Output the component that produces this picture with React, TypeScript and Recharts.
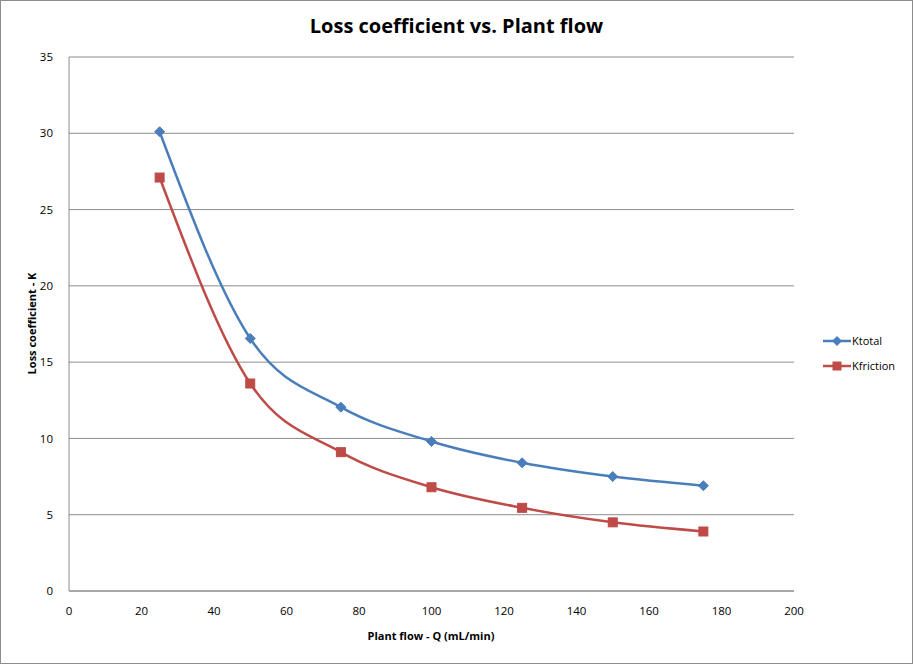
import { LineChart, Line, XAxis, YAxis, CartesianGrid } from 'recharts';

// ─── Data ─────────────────────────────────────────────────────────────────────

const flows = [25, 50, 75, 100, 125, 150, 175];
const kTotal = [30.1, 16.55, 12.05, 9.8, 8.4, 7.5, 6.9];
const kFriction = [27.1, 13.6, 9.1, 6.8, 5.45, 4.5, 3.9];
const xTicks = [0, 20, 40, 60, 80, 100, 120, 140, 160, 180, 200];
const yTicks = [0, 5, 10, 15, 20, 25, 30, 35];

const BLUE = '#4A7EBB';
const RED = '#BE4B48';
const FONT = '"Open Sans", Lato, sans-serif';

const data = flows.map((q, i) => ({ q, total: kTotal[i], friction: kFriction[i] }));

// ─── Markers ──────────────────────────────────────────────────────────────────

function Diamond({ cx, cy }: { cx?: number; cy?: number }) {
  if (cx == null || cy == null) return null;
  const r = 5;
  return (
    <path
      d={`M${cx},${cy - r}L${cx + r},${cy}L${cx},${cy + r}L${cx - r},${cy}Z`}
      fill={BLUE}
      stroke={BLUE}
    />
  );
}

function Square({ cx, cy }: { cx?: number; cy?: number }) {
  if (cx == null || cy == null) return null;
  const r = 4.5;
  return <rect x={cx - r} y={cy - r} width={r * 2} height={r * 2} fill={RED} stroke={RED} />;
}

function LegendBox() {
  const items = [
    { label: 'Ktotal', color: BLUE, marker: 'd' },
    { label: 'Kfriction', color: RED, marker: 's' },
  ];
  return (
    <div style={{ position: 'absolute', left: 822, top: 327, fontFamily: FONT, fontSize: 11 }}>
      {items.map((it) => (
        <div key={it.label} style={{ display: 'flex', alignItems: 'center', height: 25 }}>
          <svg width={28} height={12}>
            <line x1={0} y1={6} x2={28} y2={6} stroke={it.color} strokeWidth={2.5} />
            {it.marker === 'd' ? (
              <path d="M14,1L19,6L14,11L9,6Z" fill={it.color} />
            ) : (
              <rect x={9.5} y={1.5} width={9} height={9} fill={it.color} />
            )}
          </svg>
          <span style={{ color: '#000', marginLeft: 1 }}>{it.label}</span>
        </div>
      ))}
    </div>
  );
}

// ─── Chart ────────────────────────────────────────────────────────────────────

export default function App() {
  return (
    <div
      style={{
        position: 'absolute',
        left: 0,
        top: 0,
        width: 911,
        height: 662,
        border: '1px solid #8c8c8c',
        background: '#fff',
        fontFamily: FONT,
      }}
    >
      <div
        style={{
          position: 'absolute',
          top: 11,
          left: 0,
          width: '100%',
          textAlign: 'center',
          fontWeight: 'bold',
          fontSize: 20,
          color: '#000',
        }}
      >
        Loss coefficient vs. Plant flow
      </div>
      <div
        style={{
          position: 'absolute',
          left: 430 - 150,
          top: 627,
          width: 300,
          textAlign: 'center',
          fontWeight: 'bold',
          fontSize: 11,
        }}
      >
        Plant flow - Q (mL/min)
      </div>
      <div
        style={{
          position: 'absolute',
          left: 30 - 100,
          top: 323 - 8,
          width: 200,
          textAlign: 'center',
          fontWeight: 'bold',
          fontSize: 11,
          transform: 'rotate(-90deg)',
        }}
      >
        Loss coefficient - K
      </div>
      <LineChart
        width={911}
        height={662}
        data={data}
        margin={{ top: 56, right: 118, bottom: 22, left: 28 }}
      >
        <CartesianGrid vertical={false} stroke="#8c8c8c" strokeWidth={1} />
        <XAxis
          dataKey="q"
          type="number"
          domain={[0, 200]}
          ticks={xTicks}
          stroke="#8c8c8c"
          tickLine={false}
          tick={{ fontSize: 11.5, fill: '#000', fontFamily: FONT }}
          tickMargin={10}
          height={50}
        />
        <YAxis
          type="number"
          domain={[0, 35]}
          ticks={yTicks}
          stroke="#8c8c8c"
          tickLine={false}
          tick={{ fontSize: 11.5, fill: '#000', fontFamily: FONT }}
          tickMargin={10}
          width={40}
        />
        <Line
          type="monotone"
          dataKey="total"
          name="Ktotal"
          stroke={BLUE}
          strokeWidth={2.5}
          dot={<Diamond />}
          isAnimationActive={false}
        />
        <Line
          type="monotone"
          dataKey="friction"
          name="Kfriction"
          stroke={RED}
          strokeWidth={2.5}
          dot={<Square />}
          isAnimationActive={false}
        />
      </LineChart>
      <LegendBox />
    </div>
  );
}
